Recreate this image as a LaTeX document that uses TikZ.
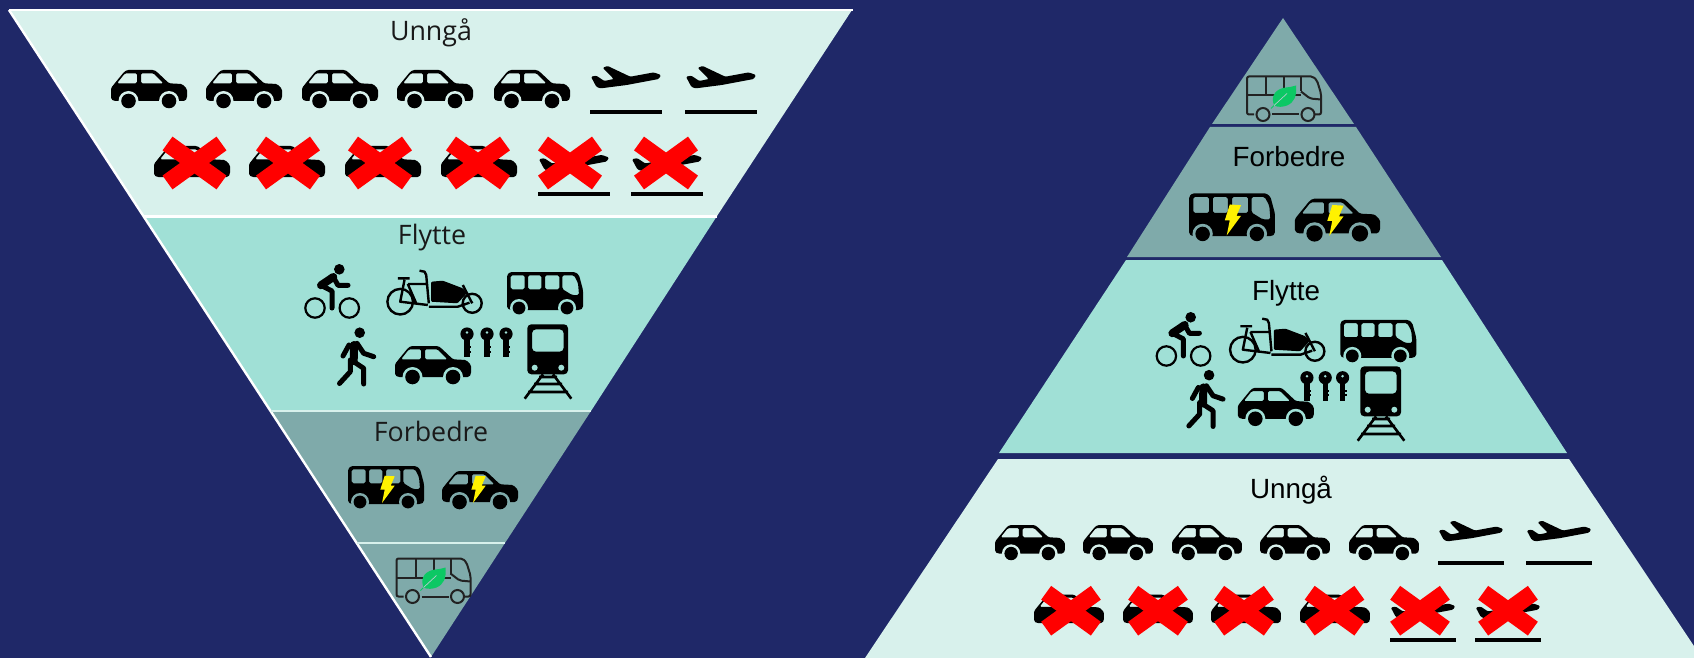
\documentclass[tikz,border=0pt]{standalone}
\usepackage{fontspec}
\setmainfont{Open Sans}
\newfontfamily\arialfont{Liberation Sans}
\definecolor{navybg}{HTML}{1F2868}
\definecolor{paleband}{HTML}{D8F1EC}
\definecolor{midband}{HTML}{A0E0D6}
\definecolor{darkband}{HTML}{7FAAAA}
\definecolor{leafgreen}{HTML}{0CC864}
\definecolor{iconink}{HTML}{222222}
\colorlet{iconbg}{paleband}
\newcommand{\carbodyfill}{%
  \fill[black,even odd rule,rounded corners=1.4pt]
      (-38,10) -- (-38,-1) -- (-34,-6) -- (-25,-17) -- (-22,-19) -- (5,-19) -- (8,-17) -- (20,-5.7)
      -- (33,-5) -- (38,0) -- (38,9) -- (36,12) -- (-35,12) -- cycle
      (-32,-5.7) -- (-24,-15.7) -- (-12,-15.7) -- (-12,-5.7) -- cycle
      (-8,-15.7) -- (4.5,-15.7) -- (14.5,-5.7) -- (-8,-5.7) -- cycle;
}
\tikzset{
  opentext/.style={text=black!90,font=\fontsize{26.8}{30}\selectfont,inner sep=0pt},
  ariatext/.style={text=black,font=\arialfont\fontsize{27.8}{30}\selectfont,inner sep=0pt},
  pics/carbody/.style={code={\carbodyfill}},
  pics/car/.style={code={
    \carbodyfill
    \foreach \wx in {-20.5,20}{
      \fill[iconbg] (\wx,12) circle (10);
      \fill[black] (\wx,12) circle (7.3);}
  }},
  pics/planeicon/.style={code={
    \fill[black,rounded corners=1.2pt]
      (-35,-0.5) -- (-29.7,-1.5) -- (-21.7,3.8) -- (-12.3,1.8) -- (-23.3,-9.5) -- (-18.3,-11.2)
      -- (4.3,-0.5) -- (27.7,-4.8) -- (35,-2.2) -- (32.7,1.8) -- (0.7,7.8) -- (-25.7,11.2) -- (-29.7,9.5) -- cycle;
    \fill[black] (-36,32.5) rectangle (36,36.5);
  }},
  pics/cross/.style={code={
    \draw[red,line width=17pt] (-27,-19.5) -- (27,19.5);
    \draw[red,line width=17pt] (27,-19.5) -- (-27,19.5);
  }},
  pics/busicon/.style={code={
    \fill[black,even odd rule,rounded corners=1.6pt]
      (-38,15) -- (-38,-18) -- (-35,-21) -- (30,-21) -- (34,-18) -- (38,-3) -- (38,15) -- (35,17) -- (-35,17) -- cycle
      (-34.3,-17.7) rectangle (-20.3,-3.7)
      (-17,-17.7) rectangle (-3.7,-3.7)
      (0,-17.7) rectangle (14.3,-3.7)
      (17.3,-17.7) -- (29,-17.7) -- (33,-10) -- (34,2) -- (27,2) -- (17.3,-4) -- cycle;
    \foreach \wx in {-26,22}{
      \fill[iconbg] (\wx,15) circle (9);
      \fill[black] (\wx,15) circle (6.4);}
  }},
  pics/greenbus/.style={code={
    \draw[iconink,line width=2pt,rounded corners=2pt]
      (-30,18) -- (-37,18) -- (-37,-20) -- (29,-20) -- (33,-16) -- (37,-3) -- (37,18) -- (31,18);
    \draw[iconink,line width=2pt] (-12,18) -- (15,18);
    \draw[iconink,line width=2pt] (-18,-20) -- (-18,-1) (0,-20) -- (0,-1) (17,-20) -- (17,-5)
      (-37,-1) -- (17,-1);
    \draw[iconink,line width=2pt,rounded corners=2pt] (17,-5) -- (26,2) -- (37,3);
    \draw[iconink,line width=2pt] (-21,18) circle (6.5) (24,18) circle (6.5);
    \fill[leafgreen] (-10,9) .. controls (-14,-2) and (-7,-8) .. (2,-9)
      .. controls (6,-9.5) and (9,-10) .. (12,-11)
      .. controls (13,0) and (10,6) .. (3,9) .. controls (-1,10.5) and (-6,11) .. (-10,9) -- cycle;
    \draw[leafgreen,line width=1pt] (-13,12) -- (-9,8);
    \draw[darkband!60!white,line width=.7pt] (-10,9) -- (3,-3);
  }},
  pics/bolticon/.style={code={
    \fill[yellow] (-3.3,-13.3) -- (6.7,-12.7) -- (2.7,-3.3) -- (6.7,-3.3) -- (-6,14) -- (-3.3,0.7) -- (-7.7,0.7) -- cycle;
  }},
  pics/cyclist/.style={code={
    \draw[black,line width=2.2pt] (-17,16) circle (9.7) (17.3,16) circle (9.7);
    \fill[black] (7.3,-22.7) circle (5.3);
    \draw[black,line width=8pt,line cap=round,line join=round] (-11,-6.7) -- (1.3,-15);
    \draw[black,line width=5pt,line cap=round,line join=round]
      (1.3,-15) -- (6,-6.7) -- (16,-6.7)
      (-11,-6.7) -- (0,-1) -- (0,16);
  }},
  pics/walker/.style={code={
    \fill[black] (3.7,-24.3) circle (5.3);
    \draw[black,line width=8pt,line cap=round] (-2,-12) -- (-2.3,4);
    \draw[black,line width=5pt,line cap=round,line join=round]
      (-7,-12) -- (-13,-1)
      (1,-13.7) -- (7.7,-3.7) -- (17.7,-0.3)
      (-2.3,4.7) -- (7.7,11.3) -- (7.7,27)
      (-5.7,3) -- (-5.7,14.7) -- (-16.5,26.5);
  }},
  pics/cargobike/.style={code={
    \draw[black,line width=2.4pt] (-34.3,9.7) circle (12.8) (37.7,11.3) circle (9.5);
    \fill[black,rounded corners=1pt] (-3.3,-10.3) -- (8.3,-11.3) -- (28.3,-3.7) -- (32.3,1.3) -- (23,11.3) -- (-3.3,9.7) -- cycle;
    \draw[black,line width=2.4pt,line join=round]
      (-36.7,-13.7) -- (-25,-13.7)
      (-15,-21.3) -- (-10,-20.3) -- (-8.3,-17) -- (-5.7,11.3)
      (-30,-12) -- (-34.3,9.7) -- (-6.7,13)
      (-26.7,-8) -- (-8.3,-8)
      (-26.7,-8) -- (-18.3,11.3)
      (-5.7,14.7) -- (23.3,14.7) -- (35,10.7)
      (28.3,-7) -- (37.7,11.3);
  }},
  pics/keyicon/.style={code={
    \fill[black] (0,-8) circle (6.6);
    \fill[iconbg] (0,-9.5) circle (1.4);
    \fill[black] (-2.6,-4) rectangle (2.6,15);
    \fill[black] (0,4) rectangle (4,6);
    \fill[black] (0,8.5) rectangle (4,10.5);
  }},
  pics/trainicon/.style={code={
    \fill[black,even odd rule,rounded corners=4pt]
      (-20.7,-37.7) rectangle (20,12.3)
      (-16,-32.7) rectangle (15.7,-10.3);
    \fill[iconbg] (-13.3,5.7) circle (3) (13.3,5.7) circle (3);
    \draw[black,line width=2.6pt]
      (-5,12.3) -- (-23.3,36.7) (5,12.3) -- (23.3,36.7)
      (-9,15) -- (9,15) (-14,22) -- (14,22) (-20,30) -- (20,30);
  }}
}
\newcommand{\flyttegroup}{%
  \pic at (332,292) {cyclist};
  \pic at (434.5,292) {cargobike};
  \pic at (545,293) {busicon};
  \pic at (356,357) {walker};
  \pic at (433,365) {car};
  \pic at (467,342) {keyicon};
  \pic at (487,342) {keyicon};
  \pic at (506,342) {keyicon};
  \pic at (548,362) {trainicon};
}
\begin{document}
\begin{tikzpicture}[x=1pt,y=-1pt]
\useasboundingbox (0,0) rectangle (1694,658);
\fill[navybg] (0,0) rectangle (1694,658);
% left inverted pyramid
\fill[paleband] (9,10) -- (852,10) -- (717,216) -- (144,216) -- cycle;
\fill[midband] (144,216) -- (717,216) -- (591,411) -- (271,411) -- cycle;
\fill[darkband] (271,411) -- (591,411) -- (505,543) -- (357,543) -- cycle;
\fill[darkband] (357,543) -- (505,543) -- (431,657) -- cycle;
\draw[white,line width=2.5pt] (9,10) -- (853,10);
\draw[white,line width=2.4pt] (9,10) -- (431,657);
\draw[white,line width=2.6pt] (144,216.5) -- (717,216.5);
\draw[paleband,line width=2.6pt] (271,411) -- (591,411);
\draw[paleband,line width=2.6pt] (357,543) -- (505,543);
\node[opentext] (lunnga) at (431,33) {Unngå};
\node[opentext] (lflytte) at (432,238) {Flytte};
\node[opentext] (lforbedre) at (431,431) {Forbedre};
\begin{scope}
  \colorlet{iconbg}{paleband}
  \foreach \cx in {149,244,340,435,532}{\pic at (\cx,89) {car};}
  \foreach \cx in {626,721}{\pic at (\cx,77.2) {planeicon};}
  \foreach \cx in {192,287,383,479}{\pic at (\cx,165) {carbody};}
  \foreach \cx in {574,667}{\pic at (\cx,159.7) {planeicon};}
  \foreach \cx in {194.5,288,380,478,570,666}{\pic at (\cx,163) {cross};}
\end{scope}
\begin{scope}
  \colorlet{iconbg}{midband}
  \flyttegroup
\end{scope}
\begin{scope}
  \colorlet{iconbg}{darkband}
  \pic at (386,487) {busicon};
  \pic at (480,490) {car};
  \pic at (388,489) {bolticon};
  \pic at (479,489) {bolticon};
  \pic at (433.5,578.5) {greenbus};
\end{scope}
% right pyramid
\begin{scope}
  \clip (0,0) rectangle (1694,658);
  \fill[darkband] (1283,18) -- (1354,124) -- (1212,124) -- cycle;
  \fill[darkband] (1210,127) -- (1356,127) -- (1441,257) -- (1127,257) -- cycle;
  \fill[midband] (1126,260) -- (1442,260) -- (1567,453) -- (999,453) -- cycle;
  \fill[paleband] (998,459) -- (1569,459) -- (1702,658) -- (865,658) -- cycle;
\end{scope}
\node[ariatext] (rforbedre) at (1289,157) {Forbedre};
\node[ariatext] (rflytte) at (1286,293) {Flytte};
\node[ariatext] (runnga) at (1291,490) {Unngå};
\begin{scope}
  \colorlet{iconbg}{darkband}
  \pic at (1284,96.5) {greenbus};
  \pic[scale=1.13] at (1232,217) {busicon};
  \pic[scale=1.12] at (1337.5,220) {car};
  \pic[scale=1.13] at (1233.5,219.5) {bolticon};
  \pic[scale=1.13] at (1336,220) {bolticon};
\end{scope}
\begin{scope}[shift={(879.6,72.8)},scale=.915]
  \colorlet{iconbg}{midband}
  \flyttegroup
\end{scope}
\begin{scope}
  \colorlet{iconbg}{paleband}
  \foreach \cx in {1030,1118,1207,1295,1384}{\pic[scale=.92] at (\cx,542.5) {car};}
  \foreach \cx in {1471,1559}{\pic[scale=.92] at (\cx,531) {planeicon};}
  \foreach \cx in {1069,1158,1246,1335}{\pic[scale=.92] at (\cx,612) {carbody};}
  \foreach \cx in {1423,1508}{\pic[scale=.92] at (\cx,608) {planeicon};}
  \foreach \cx in {1071,1158,1244,1334.5,1420,1508}{\pic[scale=.92] at (\cx,610.7) {cross};}
\end{scope}
\end{tikzpicture}
\end{document}
